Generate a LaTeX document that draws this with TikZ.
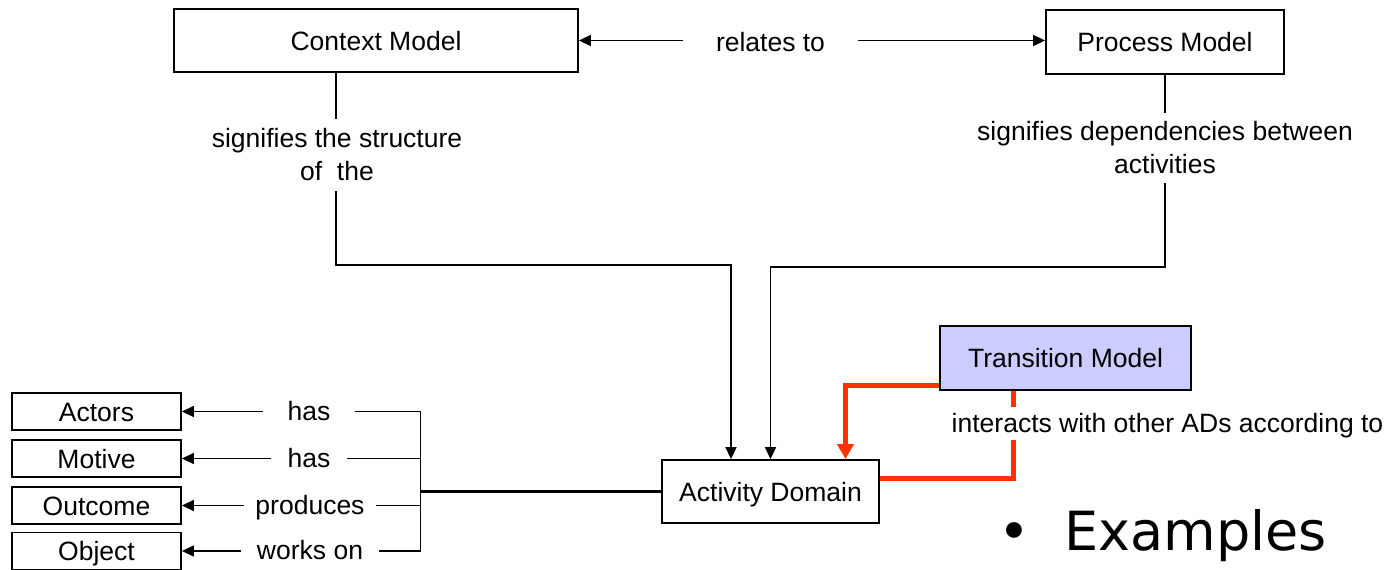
\documentclass[tikz,border=0pt]{standalone}
\usepackage{fontspec}
\setmainfont{Liberation Sans}
\newfontfamily\exfont{DejaVu Sans}
\usetikzlibrary{arrows.meta}
\definecolor{adred}{HTML}{FF3300}
\definecolor{tmfill}{HTML}{CCCCFF}
\begin{document}
\begin{tikzpicture}[x=1pt,y=-1pt,
  every node/.style={font=\fontsize{26.5}{33}\selectfont},
  box/.style={draw, line width=1.8pt, inner sep=0pt, text height=19pt, text depth=0pt},
  lbl/.style={fill=white, inner xsep=0pt, align=center},
  lblone/.style={fill=white, inner ysep=3pt, text height=19pt, text depth=0pt},
  conn/.style={line width=1.5pt},
  arr/.style={conn, -{Triangle[length=12pt,width=11pt]}},
  redline/.style={draw=adred, line width=5pt}
]
\useasboundingbox (0,0) rectangle (1389,570);

% boxes
\node[box, minimum width=404pt, minimum height=63pt] (cm) at (376,40.5) {Context Model};
\node[box, minimum width=238pt, minimum height=64pt] (pm) at (1165,42) {Process Model};
\node[box, minimum width=217pt, minimum height=63pt] (ad) at (770.5,491.5) {Activity Domain};
\node[box, fill=tmfill, minimum width=251pt, minimum height=64pt] (tm) at (1065.5,358) {Transition Model};
\node[box, minimum width=169pt, minimum height=37pt] (actors) at (96.5,411.5) {Actors};
\node[box, minimum width=169pt, minimum height=37pt] (motive) at (96.5,458.5) {Motive};
\node[box, minimum width=169pt, minimum height=37pt] (outcome) at (96.5,505.5) {Outcome};
\node[box, minimum width=169pt, minimum height=37pt] (object) at (96.5,551) {Object};

% junction coordinates
\coordinate (jc) at (336,265);
\coordinate (jp) at (1165,267);
\coordinate (bk) at (420.5,491.5);

% connectors
\draw[conn, {Triangle[length=12pt,width=11pt]}-{Triangle[length=12pt,width=11pt]}] (cm.east) -- (cm.east -| pm.west);
\draw[arr] (jc |- cm.south) -- (jc) -| ([xshift=-39.5pt]ad.north);
\draw[arr] (pm.south) -- (jp) -| (ad.north);
\draw[line width=2.5pt] (ad.west) -- (bk);
\draw[line width=1.8pt] (bk |- actors) -- (bk |- object);
\foreach \b in {actors,motive,outcome,object}
  \draw[arr] (bk |- \b) -- (\b.east);
\draw[redline, -{Triangle[length=15pt,width=16pt]}] ([yshift=-27pt]tm.west) -| ([xshift=75pt]ad.north);
\draw[redline] ([xshift=-52.5pt]tm.south) |- ([yshift=13.5pt]ad.east);

% labels
\node[lblone, inner xsep=33pt] (rel) at (770.5,41.5) {relates to};
\node[lbl, inner ysep=10pt] (sigc) at (337,155) {signifies the structure\\of\ \ the};
\node[lbl, inner ysep=8.5pt] (sigp) at (1165,148) {signifies dependencies between\\activities};
\node[lblone, inner ysep=7pt, inner xsep=0pt] (inter) at (1167.5,423) {interacts with other ADs according to};
\node[lblone, inner xsep=25pt] (has1) at (309,410.5) {has};
\node[lblone, inner xsep=17pt] (has2) at (309,457.5) {has};
\node[lblone, inner xsep=11pt] (prod) at (310,504.5) {produces};
\node[lblone, inner xsep=16pt] (works) at (310,550) {works on};

% examples
\node[font=\exfont\fontsize{54}{60}\selectfont, anchor=base] (bul) at (1014,550) {•};
\node[font=\exfont\fontsize{54}{60}\selectfont, anchor=base west, inner sep=0pt] (ex) at (1064,550) {Examples};
\end{tikzpicture}
\end{document}
